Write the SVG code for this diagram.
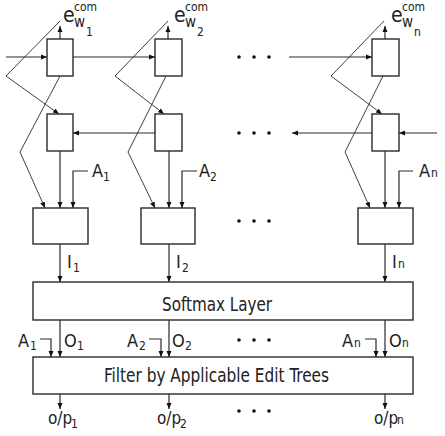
<svg xmlns="http://www.w3.org/2000/svg" width="445" height="436" viewBox="0 0 445 436">
<style>
.box{fill:#fff;stroke:#2a2a2a;stroke-width:1.4}
.ln{fill:none;stroke:#2a2a2a;stroke-width:1.2}
.dg{fill:none;stroke:#2a2a2a;stroke-width:0.9}
.t{font-family:"DejaVu Sans Condensed","DejaVu Sans",sans-serif;fill:#222}
.lb{font-size:18px}
.sb{font-size:12px}
.big{font-size:20px}
.dot{fill:#111}
</style>
<defs>
<marker id="ah" viewBox="0 0 6 6" refX="6" refY="3" markerWidth="6" markerHeight="6" markerUnits="userSpaceOnUse" orient="auto">
<path d="M0,0.5 L6,3 L0,5.5 Z" fill="#111"/>
</marker>
</defs>
<g id="connectors">
<line class="ln" x1="6" y1="57" x2="47" y2="57" marker-end="url(#ah)"/>
<line class="ln" x1="73" y1="57" x2="155" y2="57" marker-end="url(#ah)"/>
<line class="ln" x1="289" y1="57" x2="372" y2="57" marker-end="url(#ah)"/>
<line class="ln" x1="155" y1="133" x2="73" y2="133" marker-end="url(#ah)"/>
<line class="ln" x1="372" y1="133" x2="292" y2="133" marker-end="url(#ah)"/>
<line class="ln" x1="437" y1="133" x2="399" y2="133" marker-end="url(#ah)"/>
<line class="ln" x1="60" y1="39" x2="60" y2="26" marker-end="url(#ah)"/>
<line class="ln" x1="168" y1="39" x2="168" y2="26" marker-end="url(#ah)"/>
<line class="ln" x1="385" y1="39" x2="385" y2="26" marker-end="url(#ah)"/>
<polyline class="dg" points="60,21 6,76 59,114" marker-end="url(#ah)"/>
<polyline class="dg" points="168,21 115,76 164,114" marker-end="url(#ah)"/>
<polyline class="dg" points="384,21 331,76 382,114" marker-end="url(#ah)"/>
<polyline class="dg" points="60,76 20,152 45,208" marker-end="url(#ah)"/>
<polyline class="dg" points="166,76 128,152 155,208" marker-end="url(#ah)"/>
<polyline class="dg" points="383,76 345,152 370,208" marker-end="url(#ah)"/>
<line class="ln" x1="60" y1="151" x2="60" y2="208" marker-end="url(#ah)"/>
<line class="ln" x1="169" y1="151" x2="169" y2="208" marker-end="url(#ah)"/>
<line class="ln" x1="385" y1="151" x2="385" y2="208" marker-end="url(#ah)"/>
<polyline class="ln" points="88,171 73,171 73,208" marker-end="url(#ah)"/>
<polyline class="ln" points="197,171 182,171 182,208" marker-end="url(#ah)"/>
<polyline class="ln" points="413,171 399,171 399,208" marker-end="url(#ah)"/>
<line class="ln" x1="60" y1="244" x2="60" y2="282" marker-end="url(#ah)"/>
<line class="ln" x1="169" y1="244" x2="169" y2="282" marker-end="url(#ah)"/>
<line class="ln" x1="385" y1="244" x2="385" y2="282" marker-end="url(#ah)"/>
<line class="ln" x1="60" y1="320" x2="60" y2="357" marker-end="url(#ah)"/>
<line class="ln" x1="169" y1="320" x2="169" y2="357" marker-end="url(#ah)"/>
<line class="ln" x1="385" y1="320" x2="385" y2="357" marker-end="url(#ah)"/>
<polyline class="ln" points="40,339 51,339 51,357" marker-end="url(#ah)"/>
<polyline class="ln" points="149,339 161,339 161,357" marker-end="url(#ah)"/>
<polyline class="ln" points="365,339 376,339 376,357" marker-end="url(#ah)"/>
<line class="ln" x1="60" y1="394" x2="60" y2="409" marker-end="url(#ah)"/>
<line class="ln" x1="169" y1="394" x2="169" y2="409" marker-end="url(#ah)"/>
<line class="ln" x1="385" y1="394" x2="385" y2="409" marker-end="url(#ah)"/>
</g>
<g id="dots">
<circle class="dot" cx="239" cy="57" r="1.8"/><circle class="dot" cx="254" cy="57" r="1.8"/><circle class="dot" cx="269" cy="57" r="1.8"/>
<circle class="dot" cx="239" cy="133" r="1.8"/><circle class="dot" cx="254" cy="133" r="1.8"/><circle class="dot" cx="269" cy="133" r="1.8"/>
<circle class="dot" cx="239" cy="221" r="1.8"/><circle class="dot" cx="254" cy="221" r="1.8"/><circle class="dot" cx="269" cy="221" r="1.8"/>
<circle class="dot" cx="239" cy="340" r="1.8"/><circle class="dot" cx="254" cy="340" r="1.8"/><circle class="dot" cx="269" cy="340" r="1.8"/>
<circle class="dot" cx="239" cy="411" r="1.8"/><circle class="dot" cx="254" cy="411" r="1.8"/><circle class="dot" cx="269" cy="411" r="1.8"/>
</g>
<g id="fwd1"><rect class="box" x="47" y="39" width="26" height="37"/></g>
<g id="fwd2"><rect class="box" x="155" y="39" width="27" height="37"/></g>
<g id="fwdn"><rect class="box" x="372" y="39" width="27" height="37"/></g>
<g id="bwd1"><rect class="box" x="47" y="114" width="26" height="37"/></g>
<g id="bwd2"><rect class="box" x="155" y="114" width="27" height="37"/></g>
<g id="bwdn"><rect class="box" x="372" y="114" width="27" height="37"/></g>
<g id="comb1"><rect class="box" x="33" y="208" width="55" height="36"/></g>
<g id="comb2"><rect class="box" x="141" y="208" width="54" height="36"/></g>
<g id="combn"><rect class="box" x="358" y="208" width="55" height="36"/></g>
<g id="softmax"><rect class="box" x="33" y="282" width="380" height="38"/>
<text class="t big" x="162" y="311" textLength="110" lengthAdjust="spacingAndGlyphs">Softmax Layer</text></g>
<g id="filter"><rect class="box" x="33" y="357" width="380" height="37"/>
<text class="t big" x="104" y="382" textLength="225" lengthAdjust="spacingAndGlyphs">Filter by Applicable Edit Trees</text></g>
<g id="labels">
<text class="t" style="font-size:21px" x="63" y="22">e</text><text class="t sb" x="74" y="11">com</text><text class="t" style="font-size:15px" x="74" y="27">w</text><text class="t sb" x="86" y="36">1</text>
<text class="t" style="font-size:21px" x="174" y="22">e</text><text class="t sb" x="185" y="11">com</text><text class="t" style="font-size:15px" x="185" y="27">w</text><text class="t sb" x="197" y="36">2</text>
<text class="t" style="font-size:21px" x="391" y="22">e</text><text class="t sb" x="402" y="11">com</text><text class="t" style="font-size:15px" x="402" y="27">w</text><text class="t sb" x="414" y="36">n</text>
<text class="t lb" x="92" y="177">A</text><text class="t sb" x="103" y="181">1</text>
<text class="t lb" x="199" y="177">A</text><text class="t sb" x="210" y="181">2</text>
<text class="t lb" x="419" y="177">A</text><text class="t sb" x="431" y="177">n</text>
<text class="t lb" x="67" y="268">I</text><text class="t sb" x="73" y="272">1</text>
<text class="t lb" x="176" y="268">I</text><text class="t sb" x="182" y="272">2</text>
<text class="t lb" x="392" y="268">I</text><text class="t sb" x="398" y="268">n</text>
<text class="t lb" x="18" y="347">A</text><text class="t sb" x="30" y="350">1</text>
<text class="t lb" x="127" y="347">A</text><text class="t sb" x="139" y="350">2</text>
<text class="t lb" x="342" y="347">A</text><text class="t sb" x="354" y="347">n</text>
<text class="t lb" x="64" y="347">O</text><text class="t sb" x="77" y="350">1</text>
<text class="t lb" x="172" y="347">O</text><text class="t sb" x="185" y="350">2</text>
<text class="t lb" x="389" y="347">O</text><text class="t sb" x="402" y="347">n</text>
<text class="t" style="font-size:17px" x="48" y="424">o/p</text><text class="t sb" x="71" y="428">1</text>
<text class="t" style="font-size:17px" x="157" y="424">o/p</text><text class="t sb" x="180" y="428">2</text>
<text class="t" style="font-size:17px" x="374" y="424">o/p</text><text class="t sb" x="397" y="424">n</text>
</g>
</svg>
